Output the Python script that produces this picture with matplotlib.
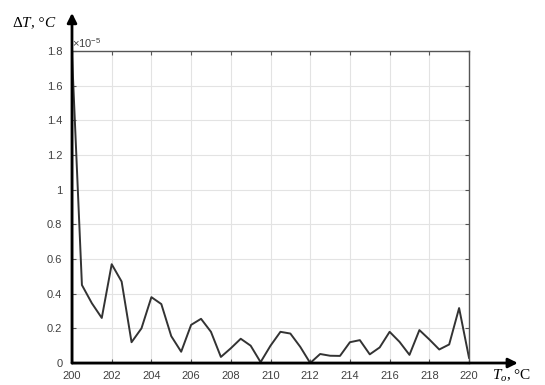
import matplotlib.pyplot as plt
import numpy as np

# temperature T_o, deg C (step 0.5)
t_o = np.arange(200, 220.5, 0.5)
# delta T in units of 1e-5 deg C
dT = [1.78, 0.45, 0.345, 0.26, 0.57, 0.47, 0.12, 0.20, 0.38, 0.34,
      0.155, 0.065, 0.22, 0.255, 0.18, 0.035, 0.085, 0.14, 0.10, 0.005,
      0.10, 0.18, 0.17, 0.093, 0.0, 0.052, 0.042, 0.041, 0.12, 0.132,
      0.05, 0.09, 0.18, 0.122, 0.047, 0.19, 0.136, 0.078, 0.107, 0.317,
      0.03]
x_ticks = np.arange(200, 221, 2)
y_ticks = np.arange(0, 1.81, 0.2)

plt.rcParams['font.family'] = 'Liberation Sans'
plt.rcParams['mathtext.fontset'] = 'custom'
plt.rcParams['mathtext.it'] = 'Liberation Serif:italic'
plt.rcParams['mathtext.rm'] = 'Liberation Serif'
plt.rcParams['mathtext.sf'] = 'Liberation Sans'
fig = plt.figure(figsize=(5.45, 3.85), dpi=100)
ax = fig.add_axes([0.1321, 0.0571, 0.7285, 0.8104])

ax.plot(t_o, dT, color='#333333', lw=1.4)
ax.set_xlim(200, 220)
ax.set_ylim(0, 1.8)
ax.set_xticks(x_ticks)
ax.set_yticks(y_ticks)
ax.set_yticklabels(['%g' % round(v, 1) for v in y_ticks])
ax.grid(True, color='#e3e3e3', lw=0.8)
ax.tick_params(direction='in', length=3, width=0.8, colors='#555555',
               labelcolor='#404040', labelsize=8, top=True, right=True)
ax.tick_params(axis='x', pad=6)
ax.tick_params(axis='y', pad=7)
for s in ax.spines.values():
    s.set_color('#555555')
    s.set_linewidth(1.0)
ax.text(0.0, 1.003, r'$\mathsf{\times 10^{-5}}$', transform=ax.transAxes,
        fontsize=8, color='#404040', ha='left', va='bottom')

# axis arrows
ax.annotate('', xy=(0, 1.122), xytext=(0, 0), xycoords='axes fraction',
            arrowprops=dict(arrowstyle='-|>', color='black', lw=2,
                            mutation_scale=14, shrinkA=0, shrinkB=0))
ax.annotate('', xy=(1.123, 0), xytext=(0, 0), xycoords='axes fraction',
            arrowprops=dict(arrowstyle='-|>', color='black', lw=2,
                            mutation_scale=14, shrinkA=0, shrinkB=0))

fig.text(0.022, 0.94, r'$\Delta T$, °C', fontsize=11, family='Liberation Serif',
         style='italic', ha='left', va='center')
fig.text(0.903, 0.024, r'$T_o$, °C', fontsize=11, family='Liberation Serif',
         ha='left', va='center')

fig.savefig('out.png', dpi=100)
